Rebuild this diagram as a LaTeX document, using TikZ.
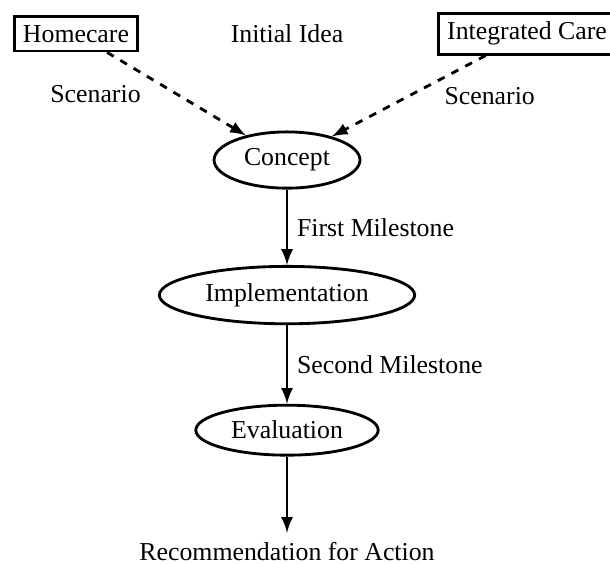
\documentclass[tikz,border=0pt]{standalone}
\usepackage{fontspec}
\setmainfont{Liberation Serif}
\usepackage{tikz}
\usetikzlibrary{arrows}
\usetikzlibrary{shapes.geometric}

\begin{document}
\begin{tikzpicture}[>=latex,line width=1.1pt,
    box/.style={draw,rectangle},
    stage/.style={draw,ellipse}]
    \useasboundingbox (-3.91,2.18) rectangle (4.40,-5.49);
    \node[box] (home) at (-2.875,1.72) {Homecare};
    \node (idea) at (0,1.72) {Initial Idea};
    \node[box] (intcare) at (3.27,1.72) {Integrated Care};
    \node[stage] (concept) at (0,0) {Concept};
    \node[stage] (impl) at (0,-1.84) {Implementation};
    \node[stage] (eval) at (0,-3.68) {Evaluation};
    \node (rec) at (0,-5.34) {Recommendation for Action};
    \draw[->,dashed] (home) to node[left=10pt]{Scenario} (concept);
    \draw[->,dashed] (intcare) to node[right=10pt]{Scenario} (concept);
    \draw[->] (concept) to node[right]{First Milestone} (impl);
    \draw[->] (impl) to node[right]{Second Milestone} (eval);
    \draw[->] (eval) to (rec);
  \end{tikzpicture}
\end{document}
